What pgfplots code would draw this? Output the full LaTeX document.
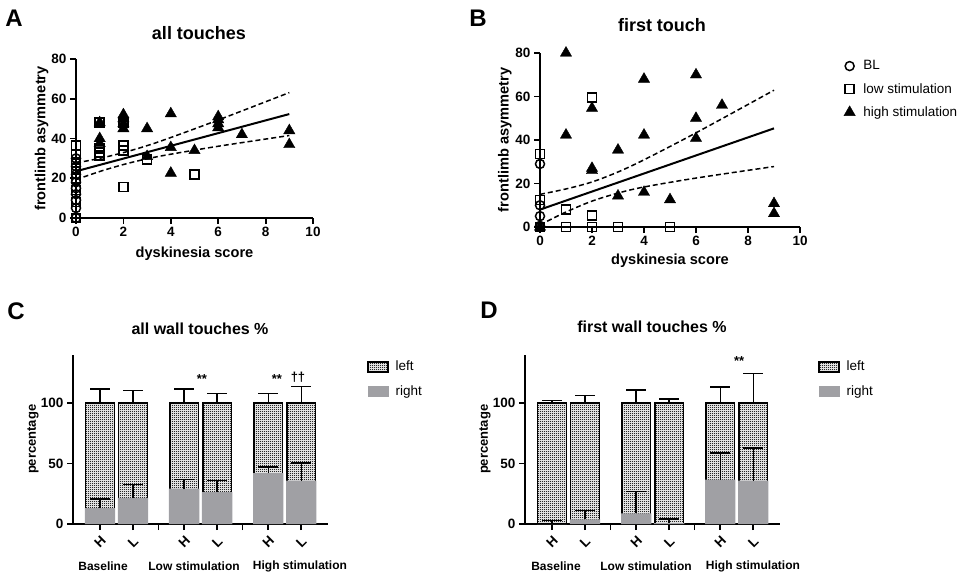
\documentclass[border=0pt]{standalone}
\usepackage{pgfplots}
\pgfplotsset{compat=1.18}
\usepackage{pgfplotstable}
\usepackage{fontspec}
\setmainfont{Liberation Sans}
\usetikzlibrary{patterns}
\definecolor{gpgray}{RGB}{160,160,164}
\pgfdeclarepatternformonly{stipple}{\pgfqpoint{-1bp}{-1bp}}{\pgfqpoint{3bp}{3bp}}{\pgfqpoint{2bp}{2bp}}{%
  \pgfpathcircle{\pgfqpoint{0.5bp}{0.5bp}}{0.5bp}\pgfusepath{fill}}

\pgfplotsset{
 gpstyle/.style={
  scale only axis, axis lines=left, axis line style={-, line width=1.8bp},
  tick align=outside, major tick length=6bp,
  major tick style={line width=1.8bp, black},
  /pgf/number format/assume math mode=true,
  tick label style={font=\fontsize{13.5bp}{16bp}\selectfont\bfseries},
  label style={font=\fontsize{14.6bp}{17bp}\selectfont\bfseries},
  clip=false,
 },
 bl/.style={only marks, mark=o, mark size=4.5bp, mark options={line width=1.5bp, draw=black, fill=none}},
 lo/.style={only marks, mark=square, mark size=4.5bp, mark options={line width=1.5bp, draw=black, fill=none}},
 hi/.style={only marks, mark=triangle*, mark size=6.5bp, mark options={draw=black, fill=black}},
 reg/.style={no marks, black, line width=2bp},
 ci/.style={no marks, black, line width=1.5bp, dash pattern=on 5bp off 3bp, smooth},
 leftbar/.style={ybar, bar width=0.87, bar shift=0pt, fill=gray!22, postaction={pattern=stipple, pattern color=black}, draw=black, line width=1.5bp,
   error bars/.cd, y dir=plus, y explicit, error bar style={line width=1.5bp, black}, error mark options={rotate=90, mark size=10bp, line width=1.5bp, black}},
 rightbar/.style={ybar, bar width=0.92, bar shift=0pt, fill=gpgray, draw=none,
   error bars/.cd, y dir=plus, y explicit, error bar style={line width=1.5bp, black}, error mark options={rotate=90, mark size=10bp, line width=1.5bp, black}},
 barax/.style={gpstyle, anchor=south west, width=255bp, height=169.4bp,
   xmin=0.18, xmax=7.91, ymin=0, ymax=140, ytick={0,50,100},
   xtick={1,2,2.77,3.55,4.55,5.32,6.1,7.1}, xticklabels={H,L,,H,L,,H,L},
   xticklabel style={yshift=-12bp, rotate=45, anchor=center},
   ylabel={percentage},
   label style={font=\fontsize{13bp}{15bp}\selectfont\bfseries},
   ylabel style={at={(axis description cs:-0.157,0.5)}, anchor=center},
   legend cell align=left,
   legend style={draw=none, fill=none, anchor=north west, font=\fontsize{13.5bp}{16bp}\selectfont, row sep=9bp,
     /tikz/every odd column/.append style={column sep=5bp}},
 },
}

\pgfplotstableread{
x r re l le
1    13.2 7.5  100 11.6
2    21.5 11.0 100 10.2
3.55 29.2 7.4  100 11.6
4.55 26.4 9.4  100 8.0
6.1  42.1 5.0  100 8.0
7.1  35.8 14.6 100 13.8
}\dataC

\pgfplotstableread{
x r re l le
1    0.0  2.8  100 2.0
2    3.9  7.1  100 6.0
3.55 8.8  17.9 100 10.7
4.55 0.8  3.3  100 3.3
6.1  36.6 22.1 100 13.2
7.1  35.8 27.0 100 24.2
}\dataD

\begin{document}
\begin{tikzpicture}
\useasboundingbox (0,0) rectangle (973bp,-574bp);

% ---------------- A ----------------
\begin{axis}[gpstyle, at={(76bp,-218bp)}, anchor=south west, width=237bp, height=159bp,
  xmin=0, xmax=10, ymin=0, ymax=80, xtick={0,2,...,10}, ytick={0,20,...,80},
  xlabel={dyskinesia score}, ylabel={frontlimb asymmetry},
  xlabel style={at={(axis description cs:0.5,-0.226)}, anchor=center},
  ylabel style={at={(axis description cs:-0.145,0.5)}, anchor=center}]
\addplot[bl] coordinates {(0,0)(0,5)(0,9)(0,12)(0,15)(0,18)(0,22)(0,26)(0,30)};
\addplot[lo] coordinates {(0,0)(0,8)(0,14)(0,20)(0,25)(0,28)(0,32)(0,36.5)
  (1,48)(1,35)(1,33)(1,31.5)(2,48)(2,36.5)(2,34)(2,15.6)(3,29.5)(5,21.8)};
\addplot[hi] coordinates {(1,48)(1,40)(1,37.5)(2,52)(2,50)(2,47.5)(2,45)(3,45)(3,31)
  (4,52.5)(4,35.5)(4,22.6)(5,34)(6,51)(6,49.5)(6,47.5)(6,45.5)(7,42)(9,44)(9,37)};
\addplot[reg] coordinates {(0,23.5)(9,52.3)};
\addplot[ci] coordinates {(0,27.7)(1,30)(2,32.9)(3,36.4)(4,40.5)(6,49.3)(9,63.1)};
\addplot[ci] coordinates {(0,19.3)(1,23.4)(2,26.9)(3,29.8)(4,32.1)(6,36.1)(9,41.5)};
\end{axis}

% ---------------- B ----------------
\begin{axis}[gpstyle, at={(540bp,-227bp)}, anchor=south west, width=260bp, height=174bp,
  xmin=0, xmax=10, ymin=0, ymax=80, xtick={0,2,...,10}, ytick={0,20,...,80},
  xlabel={dyskinesia score}, ylabel={frontlimb asymmetry},
  xlabel style={at={(axis description cs:0.5,-0.195)}, anchor=center},
  ylabel style={at={(axis description cs:-0.135,0.5)}, anchor=center},
  legend cell align=left,
  legend style={at={(1.157,0.98)}, anchor=north west, draw=none, fill=none,
    font=\fontsize{13.5bp}{16bp}\selectfont, row sep=8bp,
    /tikz/every odd column/.append style={column sep=6bp}},
  legend entries={BL, low stimulation, high stimulation}]
\addplot[bl] coordinates {(0,29)(0,10)(0,5)(0,0.5)(0,0)};
\addplot[lo] coordinates {(0,33.5)(0,12.5)(0,0)(1,8)(1,0)(2,59.5)(2,5.4)(2,0)(3,0)(5,0)};
\addplot[hi] coordinates {(0,0)(1,80)(1,42.3)(2,54.6)(2,27)(2,26)(3,35.4)(3,14.3)(4,68)(4,42.3)(4,16)
  (5,12.6)(6,70)(6,50)(6,40.8)(7,56)(9,10.8)(9,6.2)};
\addplot[forget plot, reg] coordinates {(0,8)(9,45.35)};
\addplot[forget plot, ci] coordinates {(0,15)(1,17.5)(2,20.7)(3,25.3)(4,30.9)(6,43.3)(9,62.9)};
\addplot[forget plot, ci] coordinates {(0,1)(1,6.9)(2,11.9)(3,15.6)(4,18.4)(6,22.5)(9,27.8)};
\end{axis}

% ---------------- C ----------------
\begin{axis}[barax, at={(73bp,-524bp)}, legend style={at={(1.141,0.986)}}]
\addlegendimage{legend image code/.code={\draw[fill=gray!22, postaction={pattern=stipple, pattern color=black}, line width=1.5bp] (0bp,-5bp) rectangle (20bp,5bp);}}
\addlegendentry{left}
\addlegendimage{legend image code/.code={\fill[gpgray] (0bp,-5bp) rectangle (20bp,5bp);}}
\addlegendentry{right}
\addplot[forget plot, leftbar] table[x=x, y=l, y error=le] {\dataC};
\addplot[forget plot, rightbar] table[x=x, y=r, y error=re] {\dataC};
\node[font=\fontsize{13bp}{15bp}\selectfont\bfseries] at (axis cs:4.09,119.8) {**};
\node[font=\fontsize{13bp}{15bp}\selectfont\bfseries] at (axis cs:6.36,119.8) {**};
\node[font=\fontsize{13bp}{15bp}\selectfont\bfseries] at (axis cs:7.0,121.5) {††};
\node[font=\fontsize{12bp}{14bp}\selectfont\bfseries] at (axis cs:1.09,-34.7) {Baseline};
\node[font=\fontsize{12bp}{14bp}\selectfont\bfseries] at (axis cs:3.85,-34.7) {Low stimulation};
\node[font=\fontsize{12bp}{14bp}\selectfont\bfseries] at (axis cs:7.06,-34.7) {High stimulation};
\end{axis}

% ---------------- D ----------------
\begin{axis}[barax, at={(525bp,-524bp)}, legend style={at={(1.137,0.986)}}]
\addlegendimage{legend image code/.code={\draw[fill=gray!22, postaction={pattern=stipple, pattern color=black}, line width=1.5bp] (0bp,-5bp) rectangle (20bp,5bp);}}
\addlegendentry{left}
\addlegendimage{legend image code/.code={\fill[gpgray] (0bp,-5bp) rectangle (20bp,5bp);}}
\addlegendentry{right}
\addplot[forget plot, leftbar] table[x=x, y=l, y error=le] {\dataD};
\addplot[forget plot, rightbar] table[x=x, y=r, y error=re] {\dataD};
\node[font=\fontsize{13bp}{15bp}\selectfont\bfseries] at (axis cs:6.67,134.7) {**};
\node[font=\fontsize{12bp}{14bp}\selectfont\bfseries] at (axis cs:1.12,-34.7) {Baseline};
\node[font=\fontsize{12bp}{14bp}\selectfont\bfseries] at (axis cs:3.85,-34.7) {Low stimulation};
\node[font=\fontsize{12bp}{14bp}\selectfont\bfseries] at (axis cs:7.09,-34.7) {High stimulation};
\end{axis}

% ---------------- titles and panel letters ----------------
\node[font=\fontsize{18bp}{21bp}\selectfont\bfseries] at (199bp,-33bp) {all touches};
\node[font=\fontsize{18bp}{21bp}\selectfont\bfseries] at (662bp,-25bp) {first touch};
\node[font=\fontsize{16bp}{19bp}\selectfont\bfseries] at (200bp,-329bp) {all wall touches \%};
\node[font=\fontsize{16bp}{19bp}\selectfont\bfseries] at (652bp,-327bp) {first wall touches \%};
\node[font=\fontsize{24bp}{26bp}\selectfont\bfseries] at (14bp,-18.5bp) {A};
\node[font=\fontsize{24bp}{26bp}\selectfont\bfseries] at (478bp,-18bp) {B};
\node[font=\fontsize{24bp}{26bp}\selectfont\bfseries] at (16bp,-311bp) {C};
\node[font=\fontsize{24bp}{26bp}\selectfont\bfseries] at (489bp,-310bp) {D};
\end{tikzpicture}
\end{document}
